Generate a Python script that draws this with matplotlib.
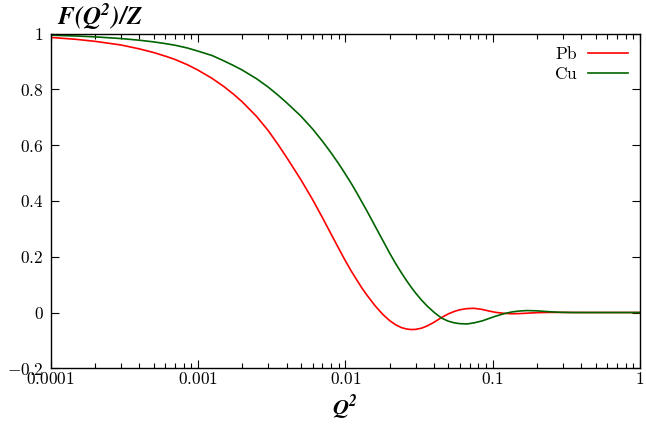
import matplotlib
matplotlib.use("Agg")
import matplotlib.pyplot as plt
from matplotlib.ticker import FixedLocator, FuncFormatter, LogLocator, NullFormatter

plt.rcParams["mathtext.fontset"] = "cm"
plt.rcParams["font.family"] = "serif"
plt.rcParams["font.serif"] = ["DejaVu Serif"]

# values
pb_q2 = [1e-4, 1.5e-4, 2e-4, 3e-4, 4e-4, 5e-4, 6e-4, 7e-4, 8.5e-4, 1e-3,
         1.25e-3, 1.5e-3, 1.75e-3, 2e-3, 2.5e-3, 3e-3, 3.5e-3, 4e-3, 5e-3,
         6e-3, 7e-3, 8e-3, 9e-3, 0.010, 0.011, 0.012, 0.013, 0.014, 0.016,
         0.018, 0.020, 0.022, 0.024, 0.026, 0.028, 0.030, 0.033, 0.036,
         0.040, 0.045, 0.050, 0.055, 0.060, 0.067, 0.075, 0.085, 0.095,
         0.105, 0.120, 0.135, 0.150, 0.170, 0.200, 0.250, 0.300, 0.400, 1.0]
pb_ff = [0.986, 0.979, 0.972, 0.959, 0.945, 0.932, 0.919, 0.907, 0.888, 0.869,
         0.839, 0.810, 0.782, 0.755, 0.703, 0.652, 0.602, 0.556, 0.476,
         0.405, 0.340, 0.282, 0.231, 0.186, 0.148, 0.116, 0.087, 0.063, 0.023,
         -0.007, -0.029, -0.044, -0.054, -0.059, -0.061, -0.0605, -0.056, -0.048,
         -0.035, -0.018, -0.005, 0.004, 0.010, 0.014, 0.015, 0.011, 0.005,
         0.0005, -0.003, -0.0045, -0.004, -0.0025, -0.0005, 0.0005, 0.0003, 0.0, 0.0]

cu_q2 = [1e-4, 1.5e-4, 2e-4, 3e-4, 4e-4, 5e-4, 6e-4, 7e-4, 8.5e-4, 1e-3,
         1.25e-3, 1.5e-3, 1.75e-3, 2e-3, 2.5e-3, 3e-3, 3.5e-3, 4e-3, 5e-3,
         6e-3, 7e-3, 8e-3, 9e-3, 0.010, 0.011, 0.012, 0.013, 0.014, 0.016,
         0.018, 0.020, 0.022, 0.024, 0.026, 0.028, 0.030, 0.033, 0.036,
         0.040, 0.045, 0.050, 0.055, 0.060, 0.067, 0.075, 0.085, 0.095,
         0.105, 0.120, 0.135, 0.150, 0.170, 0.200, 0.240, 0.280, 0.350, 1.0]
cu_ff = [0.994, 0.991, 0.988, 0.982, 0.976, 0.970, 0.964, 0.958, 0.948, 0.937,
         0.921, 0.902, 0.885, 0.869, 0.838, 0.808, 0.779, 0.752, 0.704,
         0.658, 0.614, 0.573, 0.534, 0.497, 0.462, 0.428, 0.395, 0.365, 0.308,
         0.258, 0.213, 0.175, 0.143, 0.115, 0.091, 0.070, 0.044, 0.023,
         0.001, -0.020, -0.031, -0.037, -0.040, -0.041, -0.037, -0.030, -0.021,
         -0.013, -0.004, 0.002, 0.005, 0.007, 0.006, 0.003, 0.001, 0.0, 0.0]

x_ticks = [1e-4, 1e-3, 1e-2, 1e-1, 1]
x_tick_labels = ["0.0001", "0.001", "0.01", "0.1", "1"]
y_ticks = [-0.2, 0, 0.2, 0.4, 0.6, 0.8, 1]

fig = plt.figure(figsize=(6.46, 4.33), dpi=100)
ax = fig.add_axes([0.0782, 0.1494, 0.9125, 0.7732])

ax.plot(pb_q2, pb_ff, color="#ff0000", lw=1.2, label=r"$\mathrm{Pb}$")
ax.plot(cu_q2, cu_ff, color="#006400", lw=1.2, label=r"$\mathrm{Cu}$")

ax.set_xscale("log")
ax.set_xlim(1e-4, 1)
ax.set_ylim(-0.2, 1)


def xfmt(v, pos):
    i = min(range(len(x_ticks)), key=lambda k: abs(x_ticks[k] - v))
    return "$%s$" % x_tick_labels[i]


ax.xaxis.set_major_locator(FixedLocator(x_ticks))
ax.xaxis.set_major_formatter(FuncFormatter(xfmt))
ax.xaxis.set_minor_locator(LogLocator(base=10, subs=range(2, 10)))
ax.xaxis.set_minor_formatter(NullFormatter())
ax.yaxis.set_major_locator(FixedLocator(y_ticks))
ax.yaxis.set_major_formatter(FuncFormatter(lambda v, p: "$%g$" % round(v, 1)))

ax.tick_params(which="both", direction="in", top=True, right=True, labelsize=12.5)
ax.tick_params(which="major", length=6, width=0.8)
ax.tick_params(which="minor", length=3.5, width=0.8)
ax.tick_params(axis="x", pad=2)
ax.tick_params(axis="y", pad=5)
for s in ax.spines.values():
    s.set_linewidth(1.0)

ax.legend(loc="upper right", frameon=False, markerfirst=False,
          handlelength=2.3, handletextpad=0.6, labelspacing=0.2,
          borderaxespad=0.3, prop={"size": 12.5})

fig.text(0.155, 0.962, r"$\mathbfit{F(Q^2)/Z}$", fontsize=18, ha="center",
         va="center", math_fontfamily="stix")
fig.text(0.534, 0.057, r"$\mathbfit{Q^2}$", fontsize=16, ha="center",
         va="center", math_fontfamily="stix")

fig.savefig("out.png", dpi=100)
